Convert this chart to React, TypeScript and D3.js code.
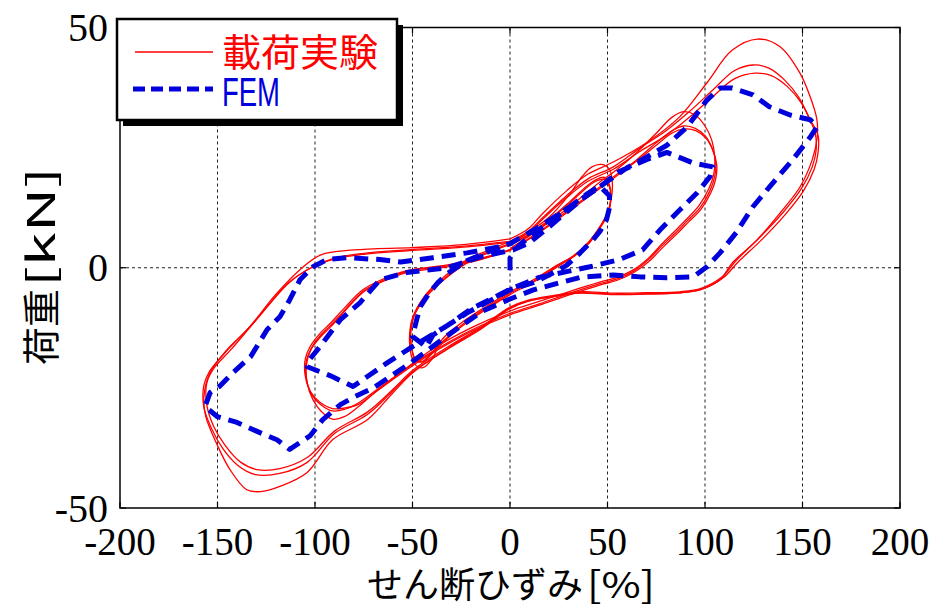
import React from "react";
import * as d3 from "d3";

// Axis ticks
const xTicks = [-200, -150, -100, -50, 0, 50, 100, 150, 200];
const yTicks = [-50, 0, 50];
const xGrid = [-150, -100, -50, 0, 50, 100, 150];
const yGrid = [0];

type Pt = [number, number];

// Loading test: three cycles at each strain amplitude (±50, ±100, ±150 %)
const exp50a: Pt[] = [[0,5],[10,7.5],[20,10.5],[30,15],[37,19],[42,21],[47,21.5],[51,20.5],[52.5,17.5],[52,14.5],[50,11.5],[46,8.5],[40,5.2],[32,2.3],[24,0.5],[12,-2.5],[0,-5],[-12,-8],[-25,-11.5],[-35,-15],[-40,-19],[-44.6,-20.8],[-49,-20],[-51,-17.5],[-51.5,-14],[-50,-10.5],[-44,-6],[-37,-3],[-22,1.7],[-10,3.8],[0,5.5]];
const exp50b: Pt[] = [[0,5],[10,7],[20,10],[30,13.5],[38,16.5],[44,18.3],[48.5,18.8],[51,17.3],[51.8,14.5],[50.5,11.5],[47,8.8],[41,5.5],[33,2.6],[25,0.6],[12,-2.8],[0,-5.3],[-12,-8.3],[-25,-12],[-35,-15.5],[-41,-18],[-45,-19.5],[-48.5,-19],[-50.5,-16.5],[-51,-13],[-49.5,-10],[-44,-6.3],[-37,-3.4],[-22,1.3],[-10,3.5],[0,5]];
const exp50c: Pt[] = [[0,5],[10,6.8],[20,9.8],[30,13.2],[38,16.2],[44,18],[48.5,18.4],[51,16.8],[51.5,14],[50,11.2],[46.5,8.6],[41,5.3],[33,2.4],[25,0.4],[12,-3],[0,-5.6],[-12,-8.6],[-25,-12.3],[-35,-15.8],[-41,-18.3],[-45,-19.6],[-48.5,-19.3],[-50.3,-17],[-50.8,-13.2],[-49.3,-10.2],[-44,-6.6],[-37,-3.6],[-22,1],[-10,3.3],[0,4.8]];

const exp100a: Pt[] = [[0,4],[15,8],[30,12.5],[45,17.5],[55,20.5],[65,24],[75,28],[83,31.3],[89,32.5],[95,31.8],[100,29.5],[103.5,26.5],[105,23],[104.5,19.5],[102,16.5],[97,13],[91,10.3],[85,7.8],[78,5],[71,2],[63,-0.5],[55,-2],[46,-3],[30,-5],[15,-7],[0,-9],[-20,-12.5],[-40,-17],[-55,-21.5],[-68,-25.5],[-78,-29],[-85,-31],[-91,-31.5],[-97,-29.8],[-101,-27.5],[-104,-24],[-104.3,-20],[-102,-17],[-97,-14.3],[-92,-12.3],[-84,-8.7],[-75,-5],[-66,-3],[-53,-1],[-32,0.2],[-15,1.7],[0,3.8]];
const exp100b: Pt[] = [[0,3.8],[15,7.5],[30,12],[45,16.5],[55,19.5],[65,22.5],[75,26],[83,28.5],[89,29.5],[95,29],[100,27.5],[103.5,25],[105.5,22],[105,19],[102.5,16],[97.5,12.5],[91,9.8],[85,7.3],[78,4.6],[71,1.7],[63,-0.8],[55,-2.3],[46,-3.3],[30,-5.4],[15,-7.5],[0,-9.5],[-20,-13],[-40,-17.5],[-55,-21.5],[-68,-25.3],[-78,-28.2],[-85,-29.5],[-91,-29.8],[-97,-28.5],[-101.5,-26.5],[-104.5,-23],[-104.5,-19.5],[-102,-16.8],[-97,-14],[-92,-12],[-84,-8.5],[-75,-4.8],[-66,-2.8],[-53,-0.8],[-32,0.4],[-15,1.8],[0,3.8]];
const exp100c: Pt[] = [[0,3.6],[15,7.3],[30,11.7],[45,16.2],[55,19.2],[65,22.2],[75,25.5],[83,28],[89.5,28.9],[95.5,28.5],[100.5,27],[104,24.5],[106,21.5],[105.5,18.5],[103,15.6],[98,12.2],[91.5,9.5],[85.5,7],[78.5,4.3],[71.5,1.4],[63.5,-1],[55,-2.6],[46,-3.6],[30,-5.7],[15,-7.8],[0,-9.8],[-20,-13.3],[-40,-17.8],[-55,-21.8],[-68,-25.6],[-78,-28.5],[-85,-29.2],[-91,-29.3],[-97.5,-28],[-102,-26],[-105,-22.5],[-105,-19],[-102.5,-16.4],[-97.5,-13.7],[-92.5,-11.7],[-84.5,-8.2],[-75.5,-4.6],[-66.5,-2.6],[-53,-0.6],[-32,0.6],[-15,2],[0,3.6]];

const exp150a: Pt[] = [[0,6],[9,8],[17,11.4],[29,16],[40,19.5],[53,22],[70,26],[87,31.4],[101,38.5],[114,45.3],[127,47.6],[138.5,46],[148.7,40.5],[154,35.5],[157.4,30.8],[157.5,27],[155,22.5],[148.7,16.8],[138.5,11.4],[126.7,5.8],[114,1],[107.7,-2.5],[97.4,-4.6],[87,-5.2],[70,-5.5],[53,-5.6],[36,-5.3],[22,-6],[9,-7],[0,-8.5],[-15.4,-12.9],[-32.3,-17],[-49.7,-21.8],[-60,-26],[-73,-31.6],[-91,-35.8],[-104,-42.6],[-118,-45.5],[-128,-46.6],[-135,-46.2],[-143.6,-42],[-150,-37],[-156,-31],[-157,-27],[-154,-22],[-145,-17],[-135,-13],[-120,-5.5],[-108,-0.5],[-97,2.7],[-80,3.7],[-50,4.2],[-24,4.8],[0,6]];
const exp150b: Pt[] = [[0,5.5],[9,7.5],[17,10.5],[29,15],[40,18.5],[53,21],[67,25],[80,28.5],[92,32.5],[104,37],[115,41],[124.6,42.2],[133,41.5],[141,39],[148,35.5],[153,31.5],[156.5,28],[157,24.5],[155,21],[149.5,16.5],[140,11.5],[128,6.3],[116,1.5],[108.5,-2],[98,-4.3],[87,-5],[70,-5.2],[53,-5.3],[36,-5],[22,-5.8],[9,-6.8],[0,-8.2],[-15.4,-12.5],[-32,-16.5],[-49.7,-21.3],[-60,-25.3],[-73,-30],[-90,-34],[-104,-39.5],[-118,-41.8],[-129.7,-42],[-138,-40.5],[-146,-37],[-152,-33],[-155.5,-28.5],[-155.5,-24],[-152,-21],[-143,-17],[-130,-10.8],[-113,-3],[-101,0.2],[-90,2],[-75,3],[-50,3.8],[-24,4.5],[0,5.5]];
const exp150c: Pt[] = [[0,5.3],[9,7.2],[17,10.2],[29,14.6],[40,18],[53,20.5],[67,24.3],[80,27.5],[92,31.3],[104,35.6],[115,39.3],[125.6,40.5],[134,40],[142,37.8],[149,34.5],[154,30.8],[158,27.5],[158,24],[156,20.5],[150.5,16],[141,11],[129,5.8],[117,1.2],[109,-2.2],[98,-4.5],[87,-5.2],[70,-5.4],[53,-5.5],[36,-5.2],[22,-6],[9,-7],[0,-8.4],[-15.4,-12.7],[-32,-16.8],[-49.7,-21.6],[-60,-25.6],[-73,-30.5],[-90,-34.5],[-104,-40.5],[-118,-42.8],[-131,-43],[-140,-41],[-147.5,-37.5],[-153,-33.5],[-157,-29],[-157,-24.5],[-154,-21.5],[-145,-17.2],[-131,-11.2],[-114,-3.3],[-102,0],[-90,1.8],[-75,2.8],[-50,3.6],[-24,4.3],[0,5.3]];

const experimentCycles: Pt[][] = [exp50a, exp50b, exp50c, exp100a, exp100b, exp100c, exp150a, exp150b, exp150c];

// FEM analysis path (one continuous history)
const fem: Pt[] = [[0,-0.5],[0,2],[3,4],[10,6.5],[20,9.5],[30,12.5],[40,15.5],[46,17],[51,15],[51,12.5],[49.5,10],[46,7.5],[42.5,5.8],[36,3.1],[29,0.5],[20,-1.5],[12,-3.1],[0,-4.6],[-11,-7],[-22,-9.4],[-32,-12],[-39.5,-14],[-43,-16.5],[-46,-15.5],[-50,-14.3],[-48,-11],[-46,-8.1],[-41,-5],[-37,-3.1],[-32,-1.2],[-22,1.5],[-10,3.5],[0,5],[15,8.5],[30,12.5],[45,16.5],[56,20],[70,22.5],[80.5,24],[94,21.8],[104,21],[102.6,19],[96,15.6],[87,12],[77,7.9],[68,3.7],[56,1.7],[41,0.2],[15,-2],[0,-4.5],[-20,-8.6],[-32,-12],[-50,-16.4],[-63,-19.8],[-80.5,-24.7],[-92,-22.5],[-104,-20.6],[-102.6,-19],[-97.4,-16.4],[-87,-10.8],[-77,-7.3],[-66.7,-2.5],[-53,-1],[-32,0],[-15,2.3],[1.5,3.7],[10,5.2],[20,8.5],[36,14],[50,18],[60,20.8],[70,23],[80.5,25.5],[90.8,29.3],[101,34.9],[107.7,37.4],[114,37.4],[124.6,36],[133,33.5],[143.6,31.8],[154,30.8],[157.4,29.3],[154,27.2],[145,22.5],[133,16.8],[124.6,12.7],[116,7.3],[107.7,3.1],[101,0.2],[94,-1.9],[80.5,-2.1],[66.7,-1.9],[53,-1.5],[36,-2],[25.6,-3.1],[12,-4.6],[0,-6.5],[-14,-9],[-30,-13.5],[-50,-19.5],[-70,-25],[-80.5,-27],[-87,-28.5],[-96,-31.6],[-102.6,-35],[-113,-37.8],[-119.5,-35.8],[-130,-34],[-140,-32.2],[-150,-31],[-156.4,-28.9],[-153.8,-26],[-149,-24.7],[-142,-21.8],[-133,-18.5],[-124.6,-12.9],[-118,-10.2],[-113,-6.7],[-107.7,-2.5],[-101,0.2],[-94,1.7],[-83.6,2.1],[-66.7,1.7],[-56,1.2],[-39.5,2.1],[-22,3.1],[-5,4.4],[1.5,5.2]];

const legendLabels = ["載荷実験", "FEM"];
const xTitle = "せん断ひずみ";
const xUnit = "[%]";
const yTitle = "荷重";
const yUnit = "[kN]";

const W = 930;
const H = 610;
const L = 120, R = 900, T = 27.5, B = 508;

export default function App() {
  const x = d3.scaleLinear().domain([-200, 200]).range([L, R]);
  const y = d3.scaleLinear().domain([-50, 50]).range([B, T]);

  const redLine = d3.line<Pt>().x(d => x(d[0])).y(d => y(d[1])).curve(d3.curveCatmullRom.alpha(0.5));
  const blueLine = d3.line<Pt>().x(d => x(d[0])).y(d => y(d[1])).curve(d3.curveLinear);

  const serif = "'Liberation Serif', 'Times New Roman', serif";
  const cjk = "'Noto Sans CJK JP', 'Noto Sans', sans-serif";
  const red = "#ff0000";
  const blue = "#0000dd";

  return (
    <svg width={W} height={H} style={{ position: "absolute", left: 0, top: 0, background: "#fff" }}>
      <rect x={0} y={0} width={W} height={H} fill="#fff" />
      {/* grid */}
      {xGrid.map(v => (
        <line key={"gx" + v} x1={x(v)} x2={x(v)} y1={T} y2={B} stroke="#222" strokeWidth={1} strokeDasharray="3,3" />
      ))}
      {yGrid.map(v => (
        <line key={"gy" + v} x1={L} x2={R} y1={y(v)} y2={y(v)} stroke="#222" strokeWidth={1} strokeDasharray="3,3" />
      ))}
      {/* experiment */}
      {experimentCycles.map((c, i) => (
        <path key={"e" + i} d={redLine(c) || ""} fill="none" stroke={red} strokeWidth={1.3} />
      ))}
      {/* FEM */}
      <path d={blueLine(fem) || ""} fill="none" stroke={blue} strokeWidth={5} strokeDasharray="14,8" strokeLinejoin="round" />
      {/* frame */}
      <rect x={L} y={T} width={R - L} height={B - T} fill="none" stroke="#000" strokeWidth={1.5} />
      {xTicks.map(v => (
        <g key={"tx" + v}>
          <line x1={x(v)} x2={x(v)} y1={B} y2={B - 6} stroke="#000" strokeWidth={1.2} />
          <line x1={x(v)} x2={x(v)} y1={T} y2={T + 6} stroke="#000" strokeWidth={1.2} />
          <text x={x(v)} y={555} textAnchor="middle" fontFamily={serif} fontSize={39} fill="#000">{v}</text>
        </g>
      ))}
      {yTicks.map(v => (
        <g key={"ty" + v}>
          <line x1={L} x2={L + 6} y1={y(v)} y2={y(v)} stroke="#000" strokeWidth={1.2} />
          <line x1={R} x2={R - 6} y1={y(v)} y2={y(v)} stroke="#000" strokeWidth={1.2} />
          <text x={108} y={y(v) + 13.5} textAnchor="end" fontFamily={serif} fontSize={40} fill="#000">{v}</text>
        </g>
      ))}
      {/* axis titles */}
      <text x={367} y={598} fontFamily={cjk} fontSize={36} textLength={216} lengthAdjust="spacingAndGlyphs" fill="#000">{xTitle}</text>
      <text x={587} y={598} fontFamily={cjk} fontSize={36} textLength={68} lengthAdjust="spacingAndGlyphs" fill="#000">{xUnit}</text>
      <g transform="translate(38,265) rotate(-90)">
        <text x={-100} y={0} dominantBaseline="central" fontFamily={cjk} fontSize={38} textLength={76} lengthAdjust="spacingAndGlyphs" fill="#000">{yTitle}</text>
        <text x={-22} y={0} dominantBaseline="central" fontFamily={cjk} fontSize={38} textLength={120} lengthAdjust="spacingAndGlyphs" fill="#000">{yUnit}</text>
      </g>
      {/* legend */}
      <rect x={123} y={25} width={280} height={101} fill="#000" />
      <rect x={117} y={19} width={280} height={101} fill="#fff" stroke="#000" strokeWidth={2.5} />
      <line x1={135} x2={213} y1={52} y2={52} stroke={red} strokeWidth={1.5} />
      <text x={222} y={66} fontFamily={cjk} fontSize={38} textLength={156} lengthAdjust="spacingAndGlyphs" fill={red}>{legendLabels[0]}</text>
      <line x1={133} x2={213} y1={89} y2={89} stroke={blue} strokeWidth={5} strokeDasharray="12,6" />
      <text x={222} y={106} fontFamily="'Liberation Sans', Arial, sans-serif" fontSize={40} textLength={58} lengthAdjust="spacingAndGlyphs" fill={blue}>{legendLabels[1]}</text>
    </svg>
  );
}
